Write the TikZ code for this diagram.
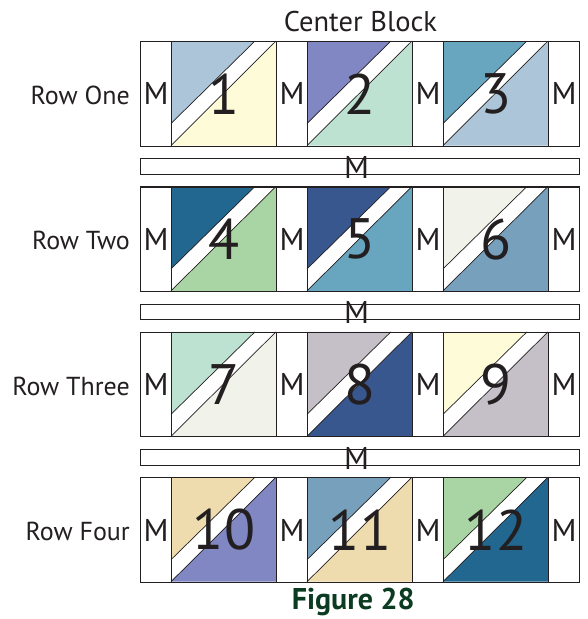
\documentclass[tikz,border=0pt]{standalone}
\usepackage{fontspec}
\setmainfont{PT Sans}
\definecolor{ink}{HTML}{231F20}
\definecolor{figgreen}{HTML}{0B3B20}
\definecolor{cBlueGray}{HTML}{ADC5D8}
\definecolor{cCream}{HTML}{FEFBD9}
\definecolor{cPeri}{HTML}{8087C2}
\definecolor{cMint}{HTML}{BDE2D2}
\definecolor{cTeal}{HTML}{68A5BE}
\definecolor{cDarkTeal}{HTML}{216790}
\definecolor{cGreen}{HTML}{A9D4A3}
\definecolor{cDarkBlue}{HTML}{39578F}
\definecolor{cOffWhite}{HTML}{F1F2EA}
\definecolor{cSteel}{HTML}{77A0BD}
\definecolor{cMauve}{HTML}{C5C0C8}
\definecolor{cTan}{HTML}{EEDCAE}
\tikzset{
  vstrip/.style={draw=ink, line width=1.1pt, fill=white, inner sep=0pt,
    minimum width=31pt, minimum height=104.5pt, anchor=north west,
    font=\fontsize{31.5}{31.5}\selectfont, text=ink},
  hstrip/.style={draw=ink, line width=1.1pt, fill=white, inner sep=0pt,
    minimum width=439pt, minimum height=15.7pt, anchor=north west},
  hlabel/.style={inner sep=0pt, anchor=base, font=\fontsize{31.5}{31.5}\selectfont, text=ink},
  blk/.style={draw=ink, line width=1.1pt, inner sep=0pt,
    minimum width=105pt, minimum height=104.5pt, anchor=north west,
    font=\fontsize{57}{57}\selectfont, text=ink},
  rowlabel/.style={inner sep=0pt, anchor=base east, font=\fontsize{26}{26}\selectfont, text=ink},
  diag/.style={draw=ink, line width=0.7pt},
}
% #1 name, #2 left x, #3 top y, #4 upper colour, #5 lower colour, #6 number
\newcommand\hstblock[6]{%
  \fill[#4] (#2,#3) -- (#2+84,#3) -- (#2,#3+82.5) -- cycle;
  \fill[#5] (#2,#3+104.5) -- (#2+105,#3) -- (#2+105,#3+104.5) -- cycle;
  \draw[diag] (#2,#3+82.5) -- (#2+84,#3);
  \draw[diag] (#2,#3+104.5) -- (#2+105,#3);
  \node[blk] (#1) at (#2,#3) {#6};
}
% #1 row index, #2 top y, #3 label
\newcommand\hstrow[3]{%
  \node[rowlabel] (lab#1) at (130,#2+63.3) {#3};
  \node[vstrip] (m#1a) at (140,#2) {M};
  \node[vstrip] (m#1b) at (276,#2) {M};
  \node[vstrip] (m#1c) at (412,#2) {M};
  \node[vstrip] (m#1d) at (548,#2) {M};
}
\begin{document}
\begin{tikzpicture}[x=1pt,y=-1pt]
\useasboundingbox (0,0) rectangle (588,619);
\node[inner sep=0pt, anchor=base, font=\fontsize{28.5}{28.5}\selectfont, text=ink] (title) at (360.5,31.7) {Center Block};

\hstrow{1}{41}{Row One}
\hstblock{b1}{171}{41}{cBlueGray}{cCream}{1}
\hstblock{b2}{307}{41}{cPeri}{cMint}{2}
\hstblock{b3}{443}{41}{cTeal}{cBlueGray}{3}

\node[hstrip] (s1) at (140,158.2) {};
\node[hlabel] (s1m) at (356.7,178.3) {M};

\hstrow{2}{186.4}{Row Two}
\hstblock{b4}{171}{186.4}{cDarkTeal}{cGreen}{4}
\hstblock{b5}{307}{186.4}{cDarkBlue}{cTeal}{5}
\hstblock{b6}{443}{186.4}{cOffWhite}{cSteel}{6}

\node[hstrip] (s2) at (140,303.6) {};
\node[hlabel] (s2m) at (356.7,323.7) {M};

\hstrow{3}{331.8}{Row Three}
\hstblock{b7}{171}{331.8}{cMint}{cOffWhite}{7}
\hstblock{b8}{307}{331.8}{cMauve}{cDarkBlue}{8}
\hstblock{b9}{443}{331.8}{cCream}{cMauve}{9}

\node[hstrip] (s3) at (140,449) {};
\node[hlabel] (s3m) at (356.7,469.1) {M};

\hstrow{4}{477.2}{Row Four}
\hstblock{b10}{171}{477.2}{cTan}{cPeri}{10}
\hstblock{b11}{307}{477.2}{cSteel}{cTan}{11}
\hstblock{b12}{443}{477.2}{cGreen}{cDarkTeal}{12}

\node[inner sep=0pt, anchor=base, font=\fontsize{30}{30}\selectfont\bfseries, text=figgreen] (fig) at (353.3,609.5) {Figure 28};
\end{tikzpicture}
\end{document}
